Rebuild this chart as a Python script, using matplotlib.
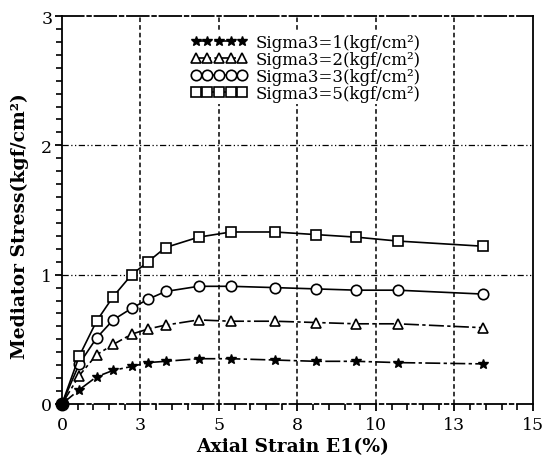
import matplotlib
matplotlib.use("Agg")
import matplotlib.pyplot as plt
from matplotlib.ticker import MultipleLocator, FixedLocator

plt.rcParams['font.family'] = ['DejaVu Serif']

strain = [0, 0.55, 1.1, 1.63, 2.22, 2.74, 3.3, 4.35, 5.38, 6.77, 8.08, 9.38, 10.69, 13.4]
s1 = [0, 0.11, 0.21, 0.26, 0.29, 0.32, 0.33, 0.35, 0.35, 0.34, 0.33, 0.33, 0.32, 0.31]
s2 = [0, 0.22, 0.38, 0.46, 0.54, 0.58, 0.61, 0.65, 0.64, 0.64, 0.63, 0.62, 0.62, 0.59]
s3 = [0, 0.31, 0.51, 0.65, 0.74, 0.81, 0.87, 0.91, 0.91, 0.90, 0.89, 0.88, 0.88, 0.85]
s5 = [0, 0.37, 0.64, 0.83, 1.00, 1.10, 1.21, 1.29, 1.33, 1.33, 1.31, 1.29, 1.26, 1.22]
labels = ['Sigma3=1(kgf/cm²)', 'Sigma3=2(kgf/cm²)', 'Sigma3=3(kgf/cm²)', 'Sigma3=5(kgf/cm²)']
xticks = [0, 2.5, 5, 7.5, 10, 12.5, 15]
xticklabels = ['0', '3', '5', '8', '10', '13', '15']
yticks = [0, 1, 2, 3]

fig = plt.figure(figsize=(5.47, 4.60), dpi=100)
ax = fig.add_axes([0.1133, 0.1196, 0.861, 0.8434])

dd = (0, (9, 2, 2, 2))
ax.plot(strain, s1, color='black', lw=1.2, ls=dd, marker='*', ms=7,
        mfc='black', mec='black', label=labels[0])
ax.plot(strain, s2, color='black', lw=1.2, ls=dd, marker='^', ms=7,
        mfc='white', mec='black', mew=1.2, label=labels[1])
ax.plot(strain, s3, color='black', lw=1.2, ls='-', marker='o', ms=7.5,
        mfc='white', mec='black', mew=1.2, label=labels[2])
ax.plot(strain, s5, color='black', lw=1.2, ls='-', marker='s', ms=7,
        mfc='white', mec='black', mew=1.2, label=labels[3])
ax.plot(strain[0], s1[0], 'o', color='black', ms=9, zorder=5, clip_on=False)

ax.set_xlim(0, 15)
ax.set_ylim(0, 3)

for x in xticks[1:-1]:
    ax.axvline(x, color='black', lw=1.1, ls=(0, (3, 2)), zorder=0)
for y in yticks[1:-1]:
    ax.axhline(y, color='black', lw=0.9, ls=(0, (5, 2, 1, 2, 1, 2)), zorder=0)

ax.spines['top'].set_linestyle((0, (12, 2, 2, 2)))
ax.spines['bottom'].set_linestyle((0, (12, 2, 2, 2)))
for sp in ax.spines.values():
    sp.set_linewidth(1.3)

ax.xaxis.set_major_locator(FixedLocator(xticks))
ax.set_xticklabels(xticklabels)
ax.xaxis.set_minor_locator(MultipleLocator(0.5))
ax.yaxis.set_major_locator(FixedLocator(yticks))
ax.yaxis.set_minor_locator(MultipleLocator(0.1))
ax.tick_params(axis='both', which='major', direction='out', length=5, width=1.3,
               labelsize=12.5, pad=2)
ax.tick_params(axis='x', which='major', pad=4)
ax.tick_params(axis='both', which='minor', direction='out', length=4, width=1.2)
ax.tick_params(axis='x', top=False)
ax.tick_params(axis='y', right=False)

ax.set_xlabel('Axial Strain E1(%)', fontsize=13.5, fontweight='bold')
ax.xaxis.set_label_coords(0.49, -0.085)
ax.set_ylabel('Mediator Stress(kgf/cm²)', fontsize=13.5, fontweight='bold')
ax.yaxis.set_label_coords(-0.07, 0.46)

leg = ax.legend(loc='upper left', bbox_to_anchor=(0.27, 0.958), frameon=True,
                numpoints=5, handlelength=3.4, handletextpad=0.5,
                labelspacing=0.0, fontsize=12, borderaxespad=0, borderpad=0.1,
                fancybox=False, edgecolor='none', facecolor='white', framealpha=1)

fig.savefig('out.png', dpi=100)
